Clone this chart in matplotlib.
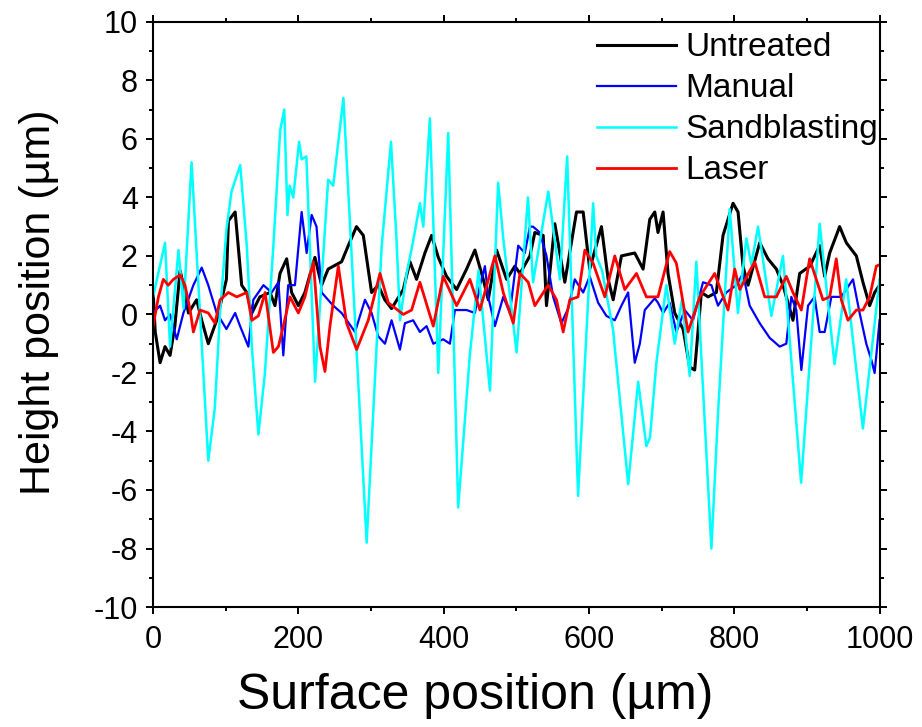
import matplotlib
matplotlib.use('Agg')
import matplotlib.pyplot as plt
from matplotlib.ticker import MultipleLocator

plt.rcParams['font.family'] = ['Liberation Sans', 'DejaVu Sans']
plt.rcParams['axes.unicode_minus'] = False

# surface profiles, x in um, height in um
x_untreated = [0, 3, 9.7, 16.5, 23.4, 30, 37.2, 41.8, 48.7, 60, 67, 76, 87.6, 101, 103.7, 113, 122, 129, 136, 147,
               161, 167.8, 174.7, 183.9, 190.7, 200, 209, 222.8, 232, 241, 259.5, 268.7, 280, 289.4, 300.8, 310, 319,
               328.3, 344.4, 353.6, 362.7, 374.2, 383.4, 392.6, 404, 417.8, 431.5, 443, 454.5, 461.4, 472.8, 486.6,
               498, 505, 518.7, 525.5, 537, 541.5, 553, 566.7, 582.8, 592, 601, 617.2, 626.4, 633.3, 644.7, 663,
               674.5, 683.7, 690.6, 695, 702, 708.8, 718, 729.5, 738.6, 745.5, 754.7, 764, 775.3, 784.5, 798.3, 805.2,
               812, 819, 835, 846.4, 857.9, 867, 880.8, 890, 904, 917.5, 924.4, 931.3, 945, 954.2, 968, 977.1, 986.3,
               993.2, 1000]
y_untreated = [0.8, -0.6, -1.65, -1.1, -1.4, -0.4, 1.5, 1.0, 0.05, 0.5, -0.2, -1.0, -0.2, 1.2, 3.2, 3.5, 1.0, 0.75,
               0.05, 0.6, 0.75, 0.3, 1.4, 1.9, 0.75, 0.3, 0.75, 1.95, 1.0, 1.55, 1.8, 2.35, 3.0, 2.7, 0.75, 1.0, 0.5,
               0.2, 0.85, 1.8, 1.2, 2.1, 2.7, 1.95, 1.3, 0.85, 1.55, 2.2, 1.2, 0.5, 2.2, 1.2, 1.65, 1.4, 2.0, 2.8, 2.7,
               0.3, 3.1, 1.1, 3.5, 3.5, 1.55, 3.0, 1.2, 0.5, 2.0, 2.1, 1.55, 3.25, 3.5, 2.8, 3.5, 1.4, 0.05, -0.5, -1.8,
               -1.9, 0.75, 0.6, 0.75, 2.7, 3.8, 3.5, 1.65, 1.0, 2.45, 1.9, 1.55, 1.0, -0.2, 1.4, 1.65, 2.35, 1.3, 2.1,
               3.0, 2.45, 2.0, 1.1, 0.3, 0.75, 1.0]

x_manual = [0, 9.7, 16.5, 23.4, 32.6, 41.8, 55.5, 67, 76, 87.6, 101, 113, 119.8, 131.2, 138, 151.9, 163.3, 172.5,
            179.3, 186, 195.3, 204.5, 211.4, 218.3, 225, 232, 248, 259.5, 278, 291.7, 300.8, 310, 319.2, 328.3, 339.8,
            346.7, 358, 367.3, 376.5, 385.7, 399.4, 408.6, 415.5, 431.5, 443, 450, 456.8, 461.4, 470.5, 482, 491.2,
            502.6, 511.7, 518.7, 523, 532.3, 541.5, 550.7, 562, 571.3, 580.5, 592, 601, 612.6, 624, 635.5, 644.7,
            653.9, 663, 670, 676.8, 690.6, 695, 702, 711, 720.3, 731.8, 743.2, 757, 768.5, 777.6, 789, 802.9, 812,
            821.2, 835, 848.7, 862.5, 871.6, 878.5, 885.4, 892.3, 901.5, 910.6, 917.5, 924.4, 933.6, 947.3, 963.4,
            972.5, 981.7, 988.6, 993.2, 1000]
y_manual = [0.05, 0.3, -0.2, 0.0, -0.85, 0.05, 1.0, 1.6, 1.0, 0.05, -0.5, 0.05, -0.4, -1.1, 0.5, 1.0, 0.75, 1.1,
            -1.4, 1.0, 1.0, 3.5, 2.1, 3.4, 3.0, 0.75, 0.3, 0.05, -0.6, 0.5, 0.05, -0.75, -1.0, -0.2, -1.2, -0.3,
            -0.2, -0.6, -0.4, -1.0, -0.85, -1.0, 0.15, 0.15, 0.05, 1.0, 1.65, 0.6, -0.4, 0.6, 0.05, 2.35, 2.1, 3.0,
            3.0, 2.8, 2.0, 0.6, -0.3, 0.2, 1.2, 0.75, 1.3, 0.4, -0.05, -0.2, 0.3, 0.75, -1.65, -1.0, 0.15, 0.55,
            0.4, 0.05, 0.4, -0.6, 0.15, -0.2, 1.1, 1.0, 0.3, 0.75, 1.0, 1.4, 0.3, -0.3, -0.8, -1.1, -1.0, 0.6, 0.15,
            -1.9, 0.3, 0.6, -0.6, -0.6, 0.6, 0.6, 1.2, 0.05, -1.0, -1.55, -2.0, -0.2]

x_sand = [0, 16.5, 23.4, 35, 42, 53, 76, 85, 92.2, 101, 108, 120, 129, 136, 145, 154, 165.6, 175, 180.6, 185, 188,
          193, 201, 204.5, 211, 223, 241, 248, 262, 294, 305.4, 314.6, 327.5, 335, 340, 349, 358, 367.3, 372, 381,
          392.6, 406.3, 420, 436, 448, 463.7, 475, 482, 500.4, 516, 523, 544, 560, 570, 585, 605.7, 610, 618, 633,
          654, 667.7, 679, 684, 692.8, 706.5, 718, 728, 738.6, 747.8, 768.5, 777.6, 793.7, 805, 816.6, 823.5, 832.7,
          851, 867, 892, 917.5, 938, 954, 977, 1000]
y_sand = [0.6, 2.45, -1.1, 2.2, 0.2, 5.2, -5.0, -3.2, 0.05, 2.9, 4.2, 5.1, 2.35, -1.1, -4.1, -2.0, 2.35, 6.3, 7.0,
          3.4, 4.4, 4.0, 5.9, 5.3, 5.4, -2.3, 4.6, 4.4, 7.4, -7.8, -2.2, 2.3, 5.9, 2.6, -0.2, 1.4, 2.5, 3.8, 3.0,
          6.7, -2.0, 6.2, -6.6, -1.4, 1.5, -2.6, 4.5, 2.6, -1.3, 4.0, 1.1, 4.2, 1.2, 5.4, -6.2, 3.8, 2.0, 1.5, -0.5,
          -5.8, -2.3, -4.5, -4.2, -1.65, 1.0, -1.0, 0.5, -2.1, 1.8, -8.0, -3.4, 3.6, 0.05, 2.6, 1.7, 3.0, -0.05,
          2.0, -5.75, 3.1, -1.7, 1.2, -3.9, 1.2]

x_laser = [0, 7.4, 14.2, 21, 28, 37.2, 44, 51, 55.5, 64.7, 76, 85.3, 92.2, 103.7, 115.2, 129, 136, 145, 154.2, 165.6,
           172.5, 179.3, 188.4, 200, 209, 220.6, 229.7, 236.6, 243.5, 255, 266.4, 280.2, 296.2, 312.3, 323.8, 344.4,
           355.9, 367.3, 385.7, 399.4, 417.8, 436.1, 449.9, 470.5, 482, 495.8, 505, 516.4, 525.5, 543.8, 555.3,
           564.5, 573.6, 585, 594.3, 605.7, 621.8, 635.5, 649.3, 665.4, 679, 695, 711.1, 720.3, 736.4, 752.4, 773,
           791.4, 800.6, 807.5, 828.1, 841.9, 857.9, 871.6, 880.8, 892.3, 903.7, 922, 931.3, 940.4, 947.3, 956.5,
           968, 977.1, 986.3, 995.5, 1000]
y_laser = [-0.4, 0.6, 1.2, 1.0, 1.2, 1.35, 1.0, 0.15, -0.6, 0.15, 0.05, -0.3, 0.5, 0.75, 0.6, 0.75, -0.2, -0.05,
           0.75, -1.3, -1.1, -0.4, 0.6, 0.05, 0.6, 1.8, -1.1, -1.95, -0.4, 1.65, -0.3, -1.2, -0.2, 1.4, 0.4, 0.0,
           0.15, 1.1, -0.4, 1.3, 0.3, 1.2, 0.15, 2.0, 0.75, -0.3, 1.4, 1.1, 0.3, 1.0, 0.5, -0.6, 0.5, 0.6, 2.2,
           1.75, 0.6, 2.0, 0.85, 1.4, 0.6, 0.6, 2.15, 1.75, -0.6, 0.6, 1.4, 0.15, 1.55, 0.85, 1.8, 0.6, 0.6, 1.3,
           0.75, 0.15, 1.9, 0.5, 0.6, 1.9, 0.5, -0.2, 0.15, 0.15, 0.6, 1.65, 1.7]

fig = plt.figure(figsize=(9.22, 7.27), dpi=100)
ax = fig.add_axes([0.166, 0.165, 0.788, 0.805])

ax.plot(x_untreated, y_untreated, color='black', lw=2.2, label='Untreated')
ax.plot(x_manual, y_manual, color='blue', lw=1.6, label='Manual')
ax.plot(x_sand, y_sand, color='cyan', lw=1.8, label='Sandblasting')
ax.plot(x_laser, y_laser, color='red', lw=2.0, label='Laser')

ax.set_xlim(0, 1000)
ax.set_ylim(-10, 10)
ax.xaxis.set_major_locator(MultipleLocator(200))
ax.xaxis.set_minor_locator(MultipleLocator(100))
ax.yaxis.set_major_locator(MultipleLocator(2))
ax.yaxis.set_minor_locator(MultipleLocator(1))
ax.tick_params(which='both', direction='out', top=True, right=True, width=1.4, labelsize=22)
ax.tick_params(which='major', length=5, pad=6)
ax.tick_params(axis='x', which='major', pad=8)
ax.tick_params(which='minor', length=3)
for s in ax.spines.values():
    s.set_linewidth(1.5)

ax.set_xlabel('Surface position (µm)', fontsize=36)
ax.set_ylabel('Height position (µm)', fontsize=31)
ax.xaxis.set_label_coords(0.443, -0.112)
ax.yaxis.set_label_coords(-0.13, 0.52)

ax.legend(loc='upper right', bbox_to_anchor=(1.026, 1.016), frameon=False, fontsize=24,
          handlelength=2.35, handletextpad=0.3, labelspacing=0.3, borderaxespad=0.2)

fig.savefig('out.png', dpi=100)
